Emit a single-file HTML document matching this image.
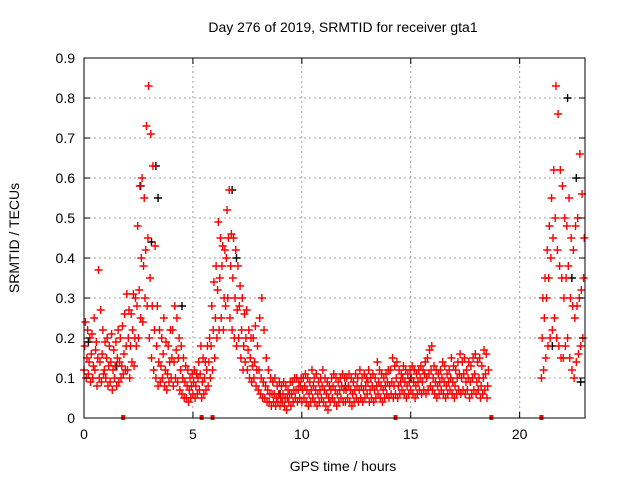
<!DOCTYPE html>
<html><head><meta charset="utf-8"><style>
body{margin:0;background:#fff;}
svg{display:block;font-family:"Liberation Sans",sans-serif;}
</style></head><body>
<svg id="chart" width="640" height="480" viewBox="0 0 640 480" xmlns="http://www.w3.org/2000/svg">
<rect width="640" height="480" fill="#fff"/>
<g id="grid"></g>
<g id="marks"></g>
<rect x="84" y="58" width="501" height="360" fill="none" stroke="#000" stroke-width="1"/>
<g id="ticks"></g>
<text x="343" y="32" text-anchor="middle" font-size="14">Day 276 of 2019, SRMTID for receiver gta1</text>
<text x="343" y="471" text-anchor="middle" font-size="14">GPS time / hours</text>
<text x="19" y="238" text-anchor="middle" font-size="14" transform="rotate(-90 19 238)">SRMTID / TECUs</text>
</svg>
<script>
const xTicks=[0,5,10,15,20];
const yTicks=[0,0.1,0.2,0.3,0.4,0.5,0.6,0.7,0.8,0.9];
const yTickLabels=["0","0.1","0.2","0.3","0.4","0.5","0.6","0.7","0.8","0.9"];
const hours=[0.0,0.1,0.2,0.3,0.4,0.5,0.6,0.7,0.8,0.9,1.0,1.1,1.2,1.3,1.4,1.5,1.6,1.7,1.8,1.9,
2.0,2.1,2.2,2.3,2.4,2.5,2.6,2.7,2.8,2.9,3.0,3.1,3.2,3.3,3.4,3.5,3.6,3.7,3.8,3.9,
4.0,4.1,4.2,4.3,4.4,4.5,4.6,4.7,4.8,4.9,5.0,5.1,5.2,5.3,5.4,5.5,5.6,5.7,5.8,5.9,
6.0,6.1,6.2,6.3,6.4,6.5,6.6,6.7,6.8,6.9,7.0,7.1,7.2,7.3,7.4,7.5,7.6,7.7,7.8,7.9,
8.0,8.1,8.2,8.3,8.4,8.5,8.6,8.7,8.8,8.9,9.0,9.1,9.2,9.3,9.4,9.5,9.6,9.7,9.8,9.9,
10.0,10.1,10.2,10.3,10.4,10.5,10.6,10.7,10.8,10.9,11.0,11.1,11.2,11.3,11.4,11.5,11.6,11.7,11.8,11.9,
12.0,12.1,12.2,12.3,12.4,12.5,12.6,12.7,12.8,12.9,13.0,13.1,13.2,13.3,13.4,13.5,13.6,13.7,13.8,13.9,
14.0,14.1,14.2,14.3,14.4,14.5,14.6,14.7,14.8,14.9,15.0,15.1,15.2,15.3,15.4,15.5,15.6,15.7,15.8,15.9,
16.0,16.1,16.2,16.3,16.4,16.5,16.6,16.7,16.8,16.9,17.0,17.1,17.2,17.3,17.4,17.5,17.6,17.7,17.8,17.9,
18.0,18.1,18.2,18.3,18.4,18.5,
21.0,21.1,21.2,21.3,21.4,21.5,21.6,21.7,21.8,21.9,22.0,22.1,22.2,22.3,22.4,22.5,22.6,22.7,22.8,22.9];
const redLow=[.12,.10,.11,.09,.10,.12,.08,.10,.09,.11,.10,.08,.09,.07,.10,.08,.09,.10,.11,.12,
.12,.10,.14,.13,.18,.20,.25,.24,.30,.28,.20,.15,.12,.10,.08,.09,.10,.08,.07,.09,
.10,.08,.10,.09,.07,.06,.05,.05,.04,.05,.06,.05,.06,.07,.05,.06,.07,.08,.10,.12,
.15,.20,.22,.25,.22,.28,.30,.25,.22,.20,.18,.20,.15,.12,.14,.12,.10,.09,.10,.08,
.07,.06,.05,.05,.04,.04,.03,.04,.03,.04,.03,.04,.03,.02,.04,.03,.04,.05,.04,.05,
.04,.05,.04,.03,.04,.05,.04,.03,.04,.05,.04,.03,.02,.04,.05,.04,.03,.04,.05,.04,
.04,.05,.04,.03,.04,.05,.04,.05,.04,.05,.06,.04,.05,.04,.05,.06,.05,.04,.05,.06,
.05,.06,.05,.06,.05,.06,.07,.06,.05,.06,.07,.06,.05,.06,.07,.06,.07,.06,.07,.08,
.07,.06,.05,.06,.07,.06,.05,.06,.07,.06,.05,.06,.07,.06,.07,.06,.07,.05,.06,.07,
.06,.07,.05,.06,.07,.05,
.10,.12,.15,.18,.20,.22,.25,.20,.18,.15,.15,.18,.20,.15,.12,.10,.14,.16,.18,.20];
const redMid=[.18,.15,.14,.16,.13,.17,.15,.14,.16,.12,.15,.13,.14,.12,.13,.15,.14,.13,.16,.18,
.20,.18,.22,.20,.28,.32,.40,.38,.42,.45,.35,.28,.22,.18,.14,.13,.16,.12,.11,.14,
.15,.14,.17,.15,.12,.10,.09,.08,.07,.08,.09,.08,.10,.11,.09,.10,.12,.14,.18,.22,
.25,.32,.35,.38,.30,.40,.45,.38,.35,.30,.27,.28,.22,.18,.20,.17,.15,.13,.14,.12,
.12,.10,.09,.08,.07,.06,.06,.06,.05,.06,.05,.06,.05,.05,.06,.06,.07,.07,.07,.08,
.07,.08,.07,.06,.07,.08,.07,.06,.07,.08,.07,.06,.05,.07,.08,.07,.06,.07,.08,.07,
.07,.08,.07,.06,.07,.08,.07,.08,.07,.08,.09,.07,.08,.07,.08,.09,.08,.07,.08,.09,
.08,.09,.08,.10,.08,.09,.10,.09,.08,.09,.10,.09,.08,.09,.10,.09,.11,.10,.11,.12,
.10,.09,.08,.09,.10,.09,.08,.09,.10,.09,.08,.10,.11,.10,.11,.09,.10,.09,.10,.11,
.09,.10,.08,.10,.11,.08,
.20,.25,.30,.35,.40,.45,.50,.42,.38,.35,.30,.35,.38,.30,.28,.25,.28,.30,.32,.35];
const redHigh=[.24,.22,.20,.21,.25,.19,.37,.27,.22,.19,.20,.18,.21,.17,.19,.22,.20,.23,.26,.31,
.27,.26,.31,.30,.48,.58,.60,.55,.73,.83,.71,.63,.43,.28,.22,.20,.25,.19,.18,.22,
.22,.28,.25,.20,.18,.15,.13,.12,.10,.11,.12,.11,.14,.18,.15,.14,.18,.20,.28,.34,
.38,.49,.45,.43,.42,.52,.57,.46,.45,.42,.38,.33,.30,.26,.27,.22,.20,.20,.23,.18,
.25,.30,.22,.15,.12,.10,.09,.10,.08,.09,.08,.09,.08,.07,.09,.09,.10,.10,.09,.10,
.10,.11,.10,.09,.12,.10,.11,.09,.10,.12,.10,.09,.08,.10,.11,.10,.09,.10,.11,.10,
.10,.11,.10,.09,.11,.10,.12,.10,.11,.10,.12,.10,.11,.10,.14,.12,.11,.10,.11,.12,
.12,.15,.13,.14,.12,.11,.13,.12,.11,.12,.13,.12,.11,.12,.13,.12,.14,.15,.17,.18,
.13,.12,.11,.12,.14,.13,.11,.12,.15,.13,.12,.14,.16,.14,.15,.12,.14,.13,.15,.16,
.14,.15,.13,.17,.16,.12,
.30,.35,.42,.48,.55,.62,.83,.76,.62,.58,.50,.48,.55,.45,.42,.48,.50,.66,.56,.45];
const blackHours=[0.2,1.5,2.6,3.1,3.3,3.4,4.5,6.8,7.0,9.0,12.0,15.0,21.5,22.2,22.6,22.8,22.4];
const blackVals=[0.19,0.13,0.58,0.44,0.63,0.55,0.28,0.57,0.40,0.06,0.08,0.10,0.18,0.80,0.60,0.09,0.35];
const flagHours=[1.8,5.4,5.9,14.3,18.7,21.0];

const NS="http://www.w3.org/2000/svg";
const X0=84,X1=585,Y0=418,Y1=58,XMAX=23,YMAX=0.9;
function xs(h){return X0+(X1-X0)*h/XMAX;}
function ys(v){return Y0-(Y0-Y1)*v/YMAX;}
const grid=document.getElementById('grid'),ticks=document.getElementById('ticks'),marks=document.getElementById('marks');
function mk(tag,attrs,parent){const e=document.createElementNS(NS,tag);for(const k in attrs)e.setAttribute(k,attrs[k]);parent.appendChild(e);return e;}
xTicks.forEach(t=>{
  const x=xs(t);
  if(t>0){const g=mk('line',{x1:x,x2:x,y1:Y0,y2:Y1,stroke:'#a0a0a0','stroke-dasharray':'2,3'},grid);
  
  }
  mk('line',{x1:x,x2:x,y1:Y0,y2:Y0-6,stroke:'#000'},ticks);
  mk('line',{x1:x,x2:x,y1:Y1,y2:Y1+6,stroke:'#000'},ticks);
  const l=mk('text',{x:x,y:Y0+21,'text-anchor':'middle','font-size':'14'},ticks);l.textContent=t;
  
  
});
yTicks.forEach((t,i)=>{
  const y=ys(t);
  if(t>0&&t<YMAX){const g=mk('line',{x1:X0,x2:X1,y1:y,y2:y,stroke:'#a0a0a0','stroke-dasharray':'2,3'},grid);
  
  }
  mk('line',{x1:X0,x2:X0+6,y1:y,y2:y,stroke:'#000'},ticks);
  mk('line',{x1:X1,x2:X1-6,y1:y,y2:y,stroke:'#000'},ticks);
  const l=mk('text',{x:X0-9,y:y+5,'text-anchor':'end','font-size':'14'},ticks);l.textContent=yTickLabels[i];
  
  
});
function plus(h,v,col,name){
  const x=xs(h),y=ys(v);
  const p=mk('path',{d:`M${x-4},${y}H${x+4}M${x},${y-4}V${y+4}`,stroke:col,'stroke-width':'1.4',fill:'none'},marks);
  
  
}
blackHours.forEach((h,i)=>plus(h,blackVals[i],'#000','black-point'));
hours.forEach((h,i)=>{
  plus(h,redLow[i],'#ff0000','red-point');
  plus(h+0.033,redMid[i],'#ff0000','red-point');
  plus(h+0.066,redHigh[i],'#ff0000','red-point');
});
flagHours.forEach(h=>{
  const r=mk('rect',{x:xs(h)-2,y:Y0-3,width:4,height:5,fill:'#ff0000'},marks);
  
  
});
</script>
</body></html>
